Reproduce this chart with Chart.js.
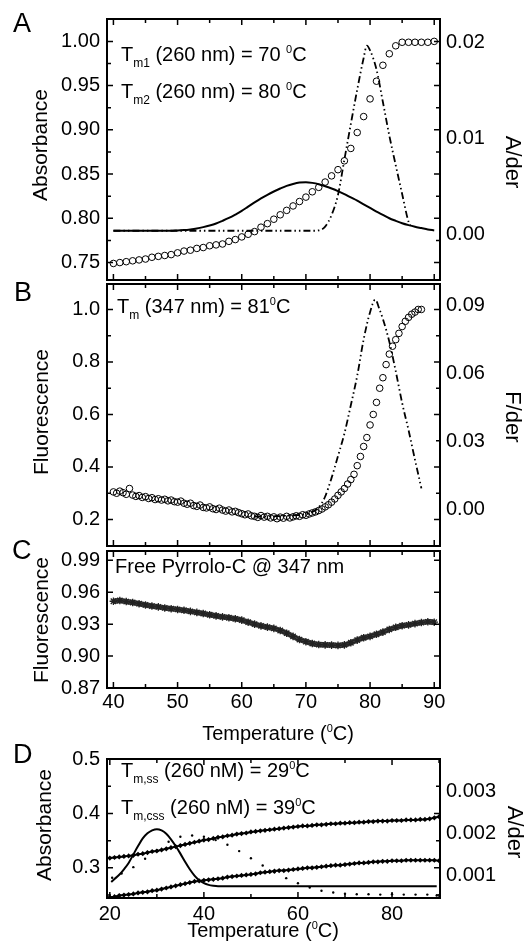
<!DOCTYPE html>
<html lang="en">
<head>
<meta charset="utf-8">
<title>Melting curves</title>
<script src="https://cdn.jsdelivr.net/npm/chart.js@4.4.1/dist/chart.umd.min.js"></script>
<style>
  body { margin: 0; background: #fff; }
  #page { position: relative; width: 525px; height: 942px; overflow: hidden; background: #fff;
          font-family: "Liberation Sans", Arial, sans-serif; color: #000; }
  #page canvas { position: absolute; left: 0; }
  .t { position: absolute; white-space: nowrap; font-size: 20px; line-height: 20px; }
  .t sub, .t sup, .xtitle sup { line-height: 0; }
  .t sub { font-size: 12px; vertical-align: -6px; }
  .t sup, .xtitle sup { font-size: 11px; vertical-align: 8px; }
  .panel { font-size: 27px; line-height: 27px; }
  .ytitle { position: absolute; white-space: nowrap; font-size: 21px; line-height: 21px;
            transform: translate(-50%, -50%) rotate(-90deg); }
  .ytitle.right { font-size: 22px; line-height: 22px; transform: translate(-50%, -50%) rotate(90deg); }
  .xtitle { position: absolute; white-space: nowrap; font-size: 20px; line-height: 20px;
            transform: translate(-50%, -50%); }
</style>
</head>
<body>
<div id="page">
  <canvas id="chartA" width="525" height="300" style="top:0px"></canvas>
  <canvas id="chartB" width="525" height="300" style="top:265px"></canvas>
  <canvas id="chartC" width="525" height="220" style="top:532px"></canvas>
  <canvas id="chartD" width="525" height="202" style="top:740px"></canvas>

  <div class="t panel" style="left:13px;top:10px">A</div>
  <div class="t panel" style="left:14px;top:279px">B</div>
  <div class="t panel" style="left:12px;top:537px">C</div>
  <div class="t panel" style="left:13px;top:741px">D</div>

  <div class="t" style="left:121px;top:44px">T<sub>m1</sub> (260 nm) = 70 <sup>0</sup>C</div>
  <div class="t" style="left:121px;top:81px">T<sub>m2</sub> (260 nm) = 80 <sup>0</sup>C</div>
  <div class="t" style="left:117px;top:296px">T<sub>m</sub> (347 nm) = 81<sup>0</sup>C</div>
  <div class="t" style="left:115px;top:556px">Free Pyrrolo-C @ 347 nm</div>
  <div class="t" style="left:121px;top:760px">T<sub>m,ss</sub> (260 nM) = 29<sup>0</sup>C</div>
  <div class="t" style="left:121px;top:797px">T<sub>m,css</sub> (260 nM) = 39<sup>0</sup>C</div>

  <div class="ytitle" style="left:39px;top:145px">Absorbance</div>
  <div class="ytitle" style="left:40px;top:412px">Fluorescence</div>
  <div class="ytitle" style="left:40px;top:620px">Fluorescence</div>
  <div class="ytitle" style="left:43px;top:825px">Absorbance</div>
  <div class="ytitle right" style="left:513px;top:162px">A/der</div>
  <div class="ytitle right" style="left:513px;top:417px">F/der</div>
  <div class="ytitle right" style="left:515px;top:832px">A/der</div>

  <div class="xtitle" style="left:278px;top:733px">Temperature (<sup>0</sup>C)</div>
  <div class="xtitle" style="left:263px;top:930px">Temperature (<sup>0</sup>C)</div>
</div>

<script>
// ---- panel A: absorbance at 260 nm and its derivatives
const tempA = [40, 41, 42, 43, 44, 45, 46, 47, 48, 49, 50, 51, 52, 53, 54, 55, 56, 57, 58, 59,
    60, 61, 62, 63, 64, 65, 66, 67, 68, 69, 70, 71, 72, 73, 74, 75, 76, 77, 78, 79,
    80, 81, 82, 83, 84, 85, 86, 87, 88, 89, 90];
const absA = [0.749, 0.750, 0.751, 0.752, 0.753, 0.754, 0.756, 0.757, 0.758, 0.759,
    0.761, 0.763, 0.764, 0.766, 0.767, 0.769, 0.770, 0.771, 0.774, 0.776,
    0.779, 0.782, 0.785, 0.790, 0.794, 0.799, 0.804, 0.809, 0.814, 0.819,
    0.824, 0.830, 0.835, 0.841, 0.848, 0.855, 0.865, 0.879, 0.897, 0.915,
    0.935, 0.955, 0.973, 0.986, 0.995, 0.999, 0.999, 0.999, 0.999, 0.999, 1.000];
const derA1 = [0.00036, 0.00036, 0.00036, 0.00036, 0.00036, 0.00036, 0.00036, 0.00036, 0.00036, 0.00036,
    0.0004, 0.00043, 0.0005, 0.0006, 0.00074, 0.00091, 0.00112, 0.0014, 0.0017, 0.00205,
    0.00243, 0.00288, 0.00332, 0.00374, 0.00412, 0.00446, 0.00477, 0.00505, 0.00525, 0.00539,
    0.00543, 0.00536, 0.00522, 0.00501, 0.00477, 0.0045, 0.00419, 0.00384, 0.0035, 0.00312,
    0.00274, 0.00236, 0.00202, 0.00167, 0.0014, 0.00115, 0.00095, 0.00078, 0.00064, 0.0005, 0.0004];
const tempDerA2 = [40, 50, 60, 70, 71, 72, 73, 74, 75, 76, 77, 78, 79, 79.5, 80, 81, 82, 83, 84, 85, 86, 86.4];
const derA2 = [0.00036, 0.00036, 0.00036, 0.00036, 0.00036, 0.0004, 0.0008, 0.002, 0.0041, 0.0078,
    0.0115, 0.0151, 0.0184, 0.0197, 0.0192, 0.0172, 0.0138, 0.0103, 0.0072, 0.0042, 0.0013, 0.0008];

// ---- panel B: fluorescence at 347 nm
const tempB = [40, 40.5, 41, 41.5, 42, 42.5, 43, 43.5, 44, 44.5, 45, 45.5, 46, 46.5, 47, 47.5, 48, 48.5, 49, 49.5,
    50, 50.5, 51, 51.5, 52, 52.5, 53, 53.5, 54, 54.5, 55, 55.5, 56, 56.5, 57, 57.5, 58, 58.5, 59, 59.5,
    60, 60.5, 61, 61.5, 62, 62.5, 63, 63.5, 64, 64.5, 65, 65.5, 66, 66.5, 67, 67.5, 68, 68.5, 69, 69.5,
    70, 70.5, 71, 71.5, 72, 72.5, 73, 73.5, 74, 74.5, 75, 75.5, 76, 76.5, 77, 77.5, 78, 78.5, 79, 79.5,
    80, 80.5, 81, 81.5, 82, 82.5, 83, 83.5, 84, 84.5, 85, 85.5, 86, 86.5, 87, 87.5, 88];
const fluB = [0.305, 0.300, 0.308, 0.302, 0.296, 0.318, 0.293, 0.288, 0.291, 0.284,
    0.287, 0.280, 0.283, 0.276, 0.279, 0.274, 0.277, 0.271, 0.274, 0.268,
    0.266, 0.270, 0.262, 0.258, 0.262, 0.253, 0.250, 0.255, 0.246, 0.244,
    0.248, 0.241, 0.238, 0.243, 0.236, 0.232, 0.236, 0.229, 0.231, 0.226,
    0.222, 0.218, 0.221, 0.214, 0.212, 0.208, 0.215, 0.209, 0.212, 0.206,
    0.210, 0.203, 0.209, 0.205, 0.212, 0.206, 0.210, 0.214, 0.212, 0.218,
    0.216, 0.221, 0.225, 0.229, 0.234, 0.240, 0.248, 0.256, 0.266, 0.278,
    0.292, 0.305, 0.318, 0.335, 0.352, 0.372, 0.405, 0.440, 0.478, 0.512,
    0.560, 0.600, 0.646, 0.700, 0.740, 0.790, 0.830, 0.860, 0.885, 0.909,
    0.935, 0.955, 0.970, 0.982, 0.990, 1.000, 1.000];
const tempDerB = [62, 64, 66, 68, 70, 71, 72, 73, 74, 75, 76, 77, 78, 79, 80, 80.8, 81.5, 82, 83, 84, 85, 86, 87, 88];
const derB = [-0.003, -0.003, -0.0028, -0.0025, -0.002, -0.001, 0.001, 0.0058, 0.014, 0.0236, 0.0335, 0.046,
    0.059, 0.075, 0.087, 0.0925, 0.088, 0.084, 0.074, 0.061, 0.047, 0.035, 0.022, 0.0094];

// ---- panel C: free pyrrolo-C
const tempC = tempA;
const fluC = [0.9515, 0.9522, 0.9512, 0.9503, 0.9492, 0.9480, 0.9470, 0.9462, 0.9452, 0.9445,
    0.9438, 0.9430, 0.9420, 0.9410, 0.9400, 0.9388, 0.9378, 0.9368, 0.9360, 0.9350,
    0.9338, 0.9318, 0.9300, 0.9284, 0.9272, 0.9260, 0.9240, 0.9215, 0.9185, 0.9155,
    0.9135, 0.9118, 0.9108, 0.9105, 0.9103, 0.9100, 0.9105, 0.9125, 0.9150, 0.9172,
    0.9185, 0.9205, 0.9225, 0.9250, 0.9270, 0.9285, 0.9293, 0.9305, 0.9315, 0.9322, 0.9318];

// ---- panel D: ss / css absorbance at 260 nM
const tempD = [20, 21, 22, 23, 24, 25, 26, 27, 28, 29, 30, 31, 32, 33, 34, 35, 36, 37, 38, 39,
    40, 41, 42, 43, 44, 45, 46, 47, 48, 49, 50, 51, 52, 53, 54, 55, 56, 57, 58, 59,
    60, 61, 62, 63, 64, 65, 66, 67, 68, 69, 70, 71, 72, 73, 74, 75, 76, 77, 78, 79,
    80, 81, 82, 83, 84, 85, 86, 87, 88, 89, 90];
const absUpperD = [0.318, 0.319, 0.320, 0.321, 0.322, 0.323, 0.325, 0.326, 0.328, 0.330,
    0.331, 0.333, 0.335, 0.337, 0.339, 0.341, 0.343, 0.345, 0.347, 0.349,
    0.351, 0.352, 0.354, 0.356, 0.357, 0.359, 0.360, 0.362, 0.363, 0.364,
    0.366, 0.367, 0.368, 0.369, 0.370, 0.371, 0.372, 0.373, 0.374, 0.375,
    0.376, 0.377, 0.377, 0.378, 0.379, 0.379, 0.380, 0.381, 0.381, 0.382,
    0.382, 0.383, 0.383, 0.384, 0.384, 0.385, 0.385, 0.386, 0.386, 0.386,
    0.387, 0.387, 0.387, 0.388, 0.388, 0.388, 0.389, 0.389, 0.390, 0.392, 0.394];
const absLowerD = [0.246, 0.247, 0.249, 0.250, 0.251, 0.252, 0.254, 0.255, 0.256, 0.258,
    0.259, 0.261, 0.263, 0.265, 0.267, 0.269, 0.271, 0.273, 0.275, 0.276,
    0.277, 0.278, 0.279, 0.280, 0.281, 0.283, 0.284, 0.285, 0.286, 0.287,
    0.288, 0.289, 0.291, 0.292, 0.293, 0.294, 0.295, 0.295, 0.296, 0.297,
    0.298, 0.299, 0.300, 0.300, 0.301, 0.302, 0.303, 0.304, 0.305, 0.305,
    0.306, 0.307, 0.308, 0.309, 0.309, 0.310, 0.311, 0.311, 0.312, 0.312,
    0.313, 0.313, 0.313, 0.314, 0.314, 0.314, 0.314, 0.314, 0.314, 0.314, 0.313];
const tempDerD = [20.3, 21, 22, 23, 24, 25, 26, 27, 28, 29, 30, 31, 32, 33, 34, 35, 36, 37, 38, 39,
    40, 41, 42, 43, 50, 60, 70, 80, 89.5];
const derD = [0.00085, 0.00092, 0.00102, 0.00115, 0.0013, 0.0015, 0.0017, 0.00188, 0.002, 0.00207,
    0.0021, 0.00207, 0.00199, 0.00186, 0.0017, 0.00152, 0.00133, 0.00115, 0.001, 0.00089,
    0.00082, 0.00078, 0.00076, 0.00075, 0.00075, 0.00075, 0.00075, 0.00075, 0.00075];
const tempDotD = [20.5, 22.5, 25, 27.5, 30, 32.5, 35, 37.5, 40, 42.5, 45, 47.5, 50, 52.5, 55,
    57.5, 60, 62.5, 65, 67.5, 70, 72.5, 75, 77.5, 80, 82.5, 85, 87.5, 89.5];
const dotD = [0.00095, 0.00105, 0.0012, 0.0014, 0.0016, 0.0018, 0.00192, 0.00195, 0.00192, 0.00184,
    0.00173, 0.00158, 0.00141, 0.00124, 0.00108, 0.00094, 0.00082, 0.00072, 0.00064, 0.0006,
    0.00057, 0.00056, 0.00056, 0.00055, 0.00056, 0.00055, 0.00055, 0.00055, 0.00053];

// ---- tick labels and tick marks
const ticksTemp = [40, 50, 60, 70, 80, 90];
const minorTemp = [45, 55, 65, 75, 85];
const ticksAbsA = [0.75, 0.80, 0.85, 0.90, 0.95, 1.00];
const minorAbsA = [0.775, 0.825, 0.875, 0.925, 0.975];
const ticksDerA = [0.00, 0.01, 0.02];
const ticksFluB = [0.2, 0.4, 0.6, 0.8, 1.0];
const minorFluB = [0.3, 0.5, 0.7, 0.9];
const ticksDerB = [0.00, 0.03, 0.06, 0.09];
const ticksFluC = [0.87, 0.90, 0.93, 0.96, 0.99];
const ticksTempD = [20, 40, 60, 80];
const minorTempD = [30, 50, 70, 90];
const ticksAbsD = [0.3, 0.4, 0.5];
const minorAbsD = [0.25, 0.35, 0.45];
const ticksDerD = [0.001, 0.002, 0.003];

const FONT = 'Liberation Sans';

// box frame with inward ticks on all four sides
const frameTicks = {
    id: 'frameTicks',
    afterDatasetsDraw(chart, args, opts) {
        const { ctx, chartArea: a } = chart;
        const x = chart.scales.x, y = chart.scales.y;
        ctx.save();
        ctx.strokeStyle = '#000';
        ctx.lineWidth = 1.5;
        ctx.beginPath();
        const xMark = (v, len) => {
            const px = x.getPixelForValue(v);
            ctx.moveTo(px, a.top); ctx.lineTo(px, a.top + len);
            ctx.moveTo(px, a.bottom); ctx.lineTo(px, a.bottom - len);
        };
        const yMark = (v, len) => {
            const py = y.getPixelForValue(v);
            ctx.moveTo(a.left, py); ctx.lineTo(a.left + len, py);
            ctx.moveTo(a.right, py); ctx.lineTo(a.right - len, py);
        };
        opts.xMajor.forEach(v => xMark(v, 6));
        opts.xMinor.forEach(v => xMark(v, 4));
        opts.yMajor.forEach(v => yMark(v, 6));
        opts.yMinor.forEach(v => yMark(v, 4));
        ctx.stroke();
        ctx.lineWidth = 2;
        ctx.strokeRect(a.left, a.top, a.right - a.left, a.bottom - a.top);
        ctx.restore();
    }
};

function yAxis(position, min, max, tickValues, digits) {
    return {
        type: 'linear',
        position: position,
        min: min,
        max: max,
        grid: { display: false, drawTicks: false },
        border: { display: false },
        afterBuildTicks: scale => { scale.ticks = tickValues.map(v => ({ value: v })); },
        afterFit: scale => { scale.width = position === 'left' ? 107 : 85; },
        ticks: {
            autoSkip: false,
            color: '#000',
            padding: position === 'left' ? 7 : 6,
            font: { family: FONT, size: 20 },
            callback: v => Number(v).toFixed(digits)
        }
    };
}

function xAxis(min, max, tickValues, height, pad) {
    return {
        type: 'linear',
        position: 'bottom',
        display: height > 0,
        min: min,
        max: max,
        grid: { display: false, drawTicks: false },
        border: { display: false },
        afterBuildTicks: scale => { scale.ticks = tickValues.map(v => ({ value: v })); },
        afterFit: scale => { scale.height = height; },
        ticks: {
            autoSkip: false,
            maxRotation: 0,
            color: '#000',
            padding: pad,
            font: { family: FONT, size: 20 },
            callback: v => String(v)
        }
    };
}

function points(xs, ys) {
    return xs.map((t, i) => ({ x: t, y: ys[i] }));
}

const openCircles = {
    showLine: false, pointStyle: 'circle', pointRadius: 3.3, pointBorderWidth: 1,
    borderColor: '#000', pointBorderColor: '#000', backgroundColor: 'rgba(0,0,0,0)',
    pointBackgroundColor: 'rgba(0,0,0,0)'
};
const solidLine = {
    showLine: true, borderColor: '#000', borderWidth: 2, pointRadius: 0,
    cubicInterpolationMode: 'monotone'
};
const dashDotLine = {
    showLine: true, borderColor: '#000', borderWidth: 1.8, borderDash: [7, 3, 1.5, 3, 1.5, 3],
    pointRadius: 0, cubicInterpolationMode: 'monotone'
};

function makeChart(id, padding, scales, datasets, marks) {
    return new Chart(document.getElementById(id), {
        type: 'scatter',
        data: { datasets: datasets },
        options: {
            responsive: false,
            animation: false,
            devicePixelRatio: 1,
            layout: { padding: padding, autoPadding: false },
            plugins: { legend: { display: false }, tooltip: { enabled: false }, frameTicks: marks },
            scales: scales
        },
        plugins: [frameTicks]
    });
}

makeChart('chartA', { top: 15, bottom: 20, left: 0, right: 0 }, {
    x: xAxis(39.0, 90.9, ticksTemp, 0, 0),
    y: yAxis('left', 0.7303, 1.0253, ticksAbsA, 2),
    y2: yAxis('right', -0.00478, 0.02247, ticksDerA, 2)
}, [
    Object.assign({ data: points(tempA, derA1), yAxisID: 'y2' }, solidLine),
    Object.assign({ data: points(tempDerA2, derA2), yAxisID: 'y2' }, dashDotLine),
    Object.assign({ data: points(tempA, absA), yAxisID: 'y' }, openCircles)
], { xMajor: ticksTemp, xMinor: minorTemp, yMajor: ticksAbsA, yMinor: minorAbsA });

makeChart('chartB', { top: 15, bottom: 18, left: 0, right: 0 }, {
    x: xAxis(39.0, 90.9, ticksTemp, 0, 0),
    y: yAxis('left', 0.099, 1.097, ticksFluB, 1),
    y2: yAxis('right', -0.016, 0.0994, ticksDerB, 2)
}, [
    Object.assign({ data: points(tempDerB, derB), yAxisID: 'y2' }, dashDotLine),
    Object.assign({ data: points(tempB, fluB), yAxisID: 'y' }, openCircles)
], { xMajor: ticksTemp, xMinor: minorTemp, yMajor: ticksFluB, yMinor: minorFluB });

makeChart('chartC', { top: 15, bottom: 0, left: 0, right: 85 }, {
    x: xAxis(39.0, 90.9, ticksTemp, 64, 2),
    y: yAxis('left', 0.87, 0.9987, ticksFluC, 2)
}, [{
    data: points(tempC, fluC),
    showLine: true, borderColor: '#3c3c3c', borderWidth: 5.5, tension: 0.3,
    pointStyle: 'star', pointRadius: 3.8, pointBorderWidth: 1.3,
    pointBorderColor: '#222', pointBackgroundColor: '#222'
}], { xMajor: ticksTemp, xMinor: minorTemp, yMajor: ticksFluC, yMinor: [] });

makeChart('chartD', { top: 15, bottom: 0, left: 0, right: 0 }, {
    x: xAxis(19.4, 90.2, ticksTempD, 44, 4),
    y: yAxis('left', 0.2446, 0.5, ticksAbsD, 1),
    y2: yAxis('right', 0.00047, 0.00376, ticksDerD, 3)
}, [
    {
        data: points(tempDotD, dotD), yAxisID: 'y2', showLine: false,
        pointStyle: 'circle', pointRadius: 1.2, pointBorderWidth: 0,
        pointBackgroundColor: '#000', backgroundColor: '#000'
    },
    Object.assign({ data: points(tempDerD, derD), yAxisID: 'y2' }, solidLine),
    {
        data: points(tempD, absUpperD), yAxisID: 'y', showLine: true,
        borderColor: '#000', borderWidth: 2, pointStyle: 'rectRot', pointRadius: 2.6,
        pointBorderWidth: 0, pointBackgroundColor: '#000'
    },
    {
        data: points(tempD, absLowerD), yAxisID: 'y', showLine: true,
        borderColor: '#000', borderWidth: 2, pointStyle: 'rectRot', pointRadius: 2.6,
        pointBorderWidth: 0, pointBackgroundColor: '#000'
    }
], { xMajor: ticksTempD, xMinor: minorTempD, yMajor: ticksAbsD, yMinor: minorAbsD });
</script>
</body>
</html>
